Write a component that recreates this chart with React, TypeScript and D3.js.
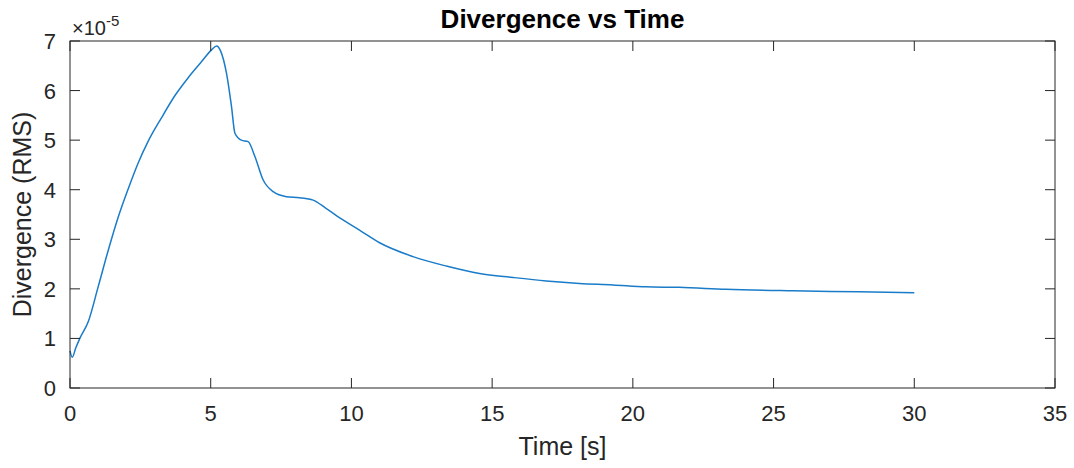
import React from "react";
import * as d3 from "d3";

const timeS = [0, 0.08, 0.2, 0.35, 0.65, 1.0, 1.36, 1.72, 2.07, 2.43, 2.78, 3.25, 3.73, 4.2, 4.67, 5.03, 5.21, 5.35, 5.56, 5.74, 5.86, 6.09, 6.33, 6.57, 6.86, 7.22, 7.69, 8.16, 8.64, 9.11, 9.7, 10.3, 11.0, 12.19, 13.37, 14.55, 15.74, 16.92, 18.1, 19.29, 20.47, 21.65, 23.31, 25.68, 28.04, 30.0];
const divergence = [0.75, 0.62, 0.8, 1.0, 1.34, 2.04, 2.78, 3.46, 4.02, 4.55, 4.98, 5.45, 5.9, 6.26, 6.58, 6.82, 6.9, 6.8, 6.35, 5.67, 5.14, 5.0, 4.97, 4.67, 4.2, 3.96, 3.86, 3.84, 3.79, 3.62, 3.39, 3.18, 2.93, 2.65, 2.46, 2.31, 2.23, 2.16, 2.11, 2.08, 2.04, 2.03, 1.99, 1.96, 1.94, 1.92];
const xTicks = [0, 5, 10, 15, 20, 25, 30, 35];
const yTicks = [0, 1, 2, 3, 4, 5, 6, 7];

const W = 1074, H = 468;
const L = 70, R = 1055, T = 41, B = 388;
const AX = "#262626";
const FONT = "'Liberation Sans', Arial, Helvetica, sans-serif";

export default function App() {
  const x = d3.scaleLinear().domain([0, 35]).range([L, R]);
  const y = d3.scaleLinear().domain([0, 7]).range([B, T]);
  const pts = timeS.map((t, i) => [t, divergence[i]] as [number, number]);
  const line = d3.line<[number, number]>().x(d => x(d[0])).y(d => y(d[1])).curve(d3.curveMonotoneX);
  const tl = 10;
  return (
    <svg width={W} height={H} style={{ position: "absolute", left: 0, top: 0, background: "#fff" }} fontFamily={FONT}>
      <rect x={0} y={0} width={W} height={H} fill="#fff" />
      <path d={line(pts) || ""} fill="none" stroke="#1a7cc9" strokeWidth={1.5} strokeLinejoin="round" />
      <g stroke={AX} strokeWidth={1}>
        <rect x={L} y={T} width={R - L} height={B - T} fill="none" />
        {xTicks.map(t => (
          <g key={"x" + t}>
            <line x1={x(t)} x2={x(t)} y1={B} y2={B - tl} />
            <line x1={x(t)} x2={x(t)} y1={T} y2={T + tl} />
          </g>
        ))}
        {yTicks.map(t => (
          <g key={"y" + t}>
            <line x1={L} x2={L + tl} y1={y(t)} y2={y(t)} />
            <line x1={R} x2={R - tl} y1={y(t)} y2={y(t)} />
          </g>
        ))}
      </g>
      <g fill={AX} fontSize={22}>
        {xTicks.map(t => (
          <text key={"xl" + t} x={x(t)} y={B + 33} textAnchor="middle">{t}</text>
        ))}
        {yTicks.map(t => (
          <text key={"yl" + t} x={L - 14} y={y(t) + 8} textAnchor="end">{t}</text>
        ))}
      </g>
      <text x={L + 2} y={35} fill={AX} fontSize={20}>
        ×10<tspan dy={-9} fontSize={15}>-5</tspan>
      </text>
      <text x={(L + R) / 2} y={455} textAnchor="middle" fill={AX} fontSize={25}>Time [s]</text>
      <text transform={`translate(31,${(T + B) / 2}) rotate(-90)`} textAnchor="middle" fill={AX} fontSize={25}>Divergence (RMS)</text>
      <text x={(L + R) / 2} y={28} textAnchor="middle" fill="#000" fontSize={26} fontWeight="bold">Divergence vs Time</text>
    </svg>
  );
}
